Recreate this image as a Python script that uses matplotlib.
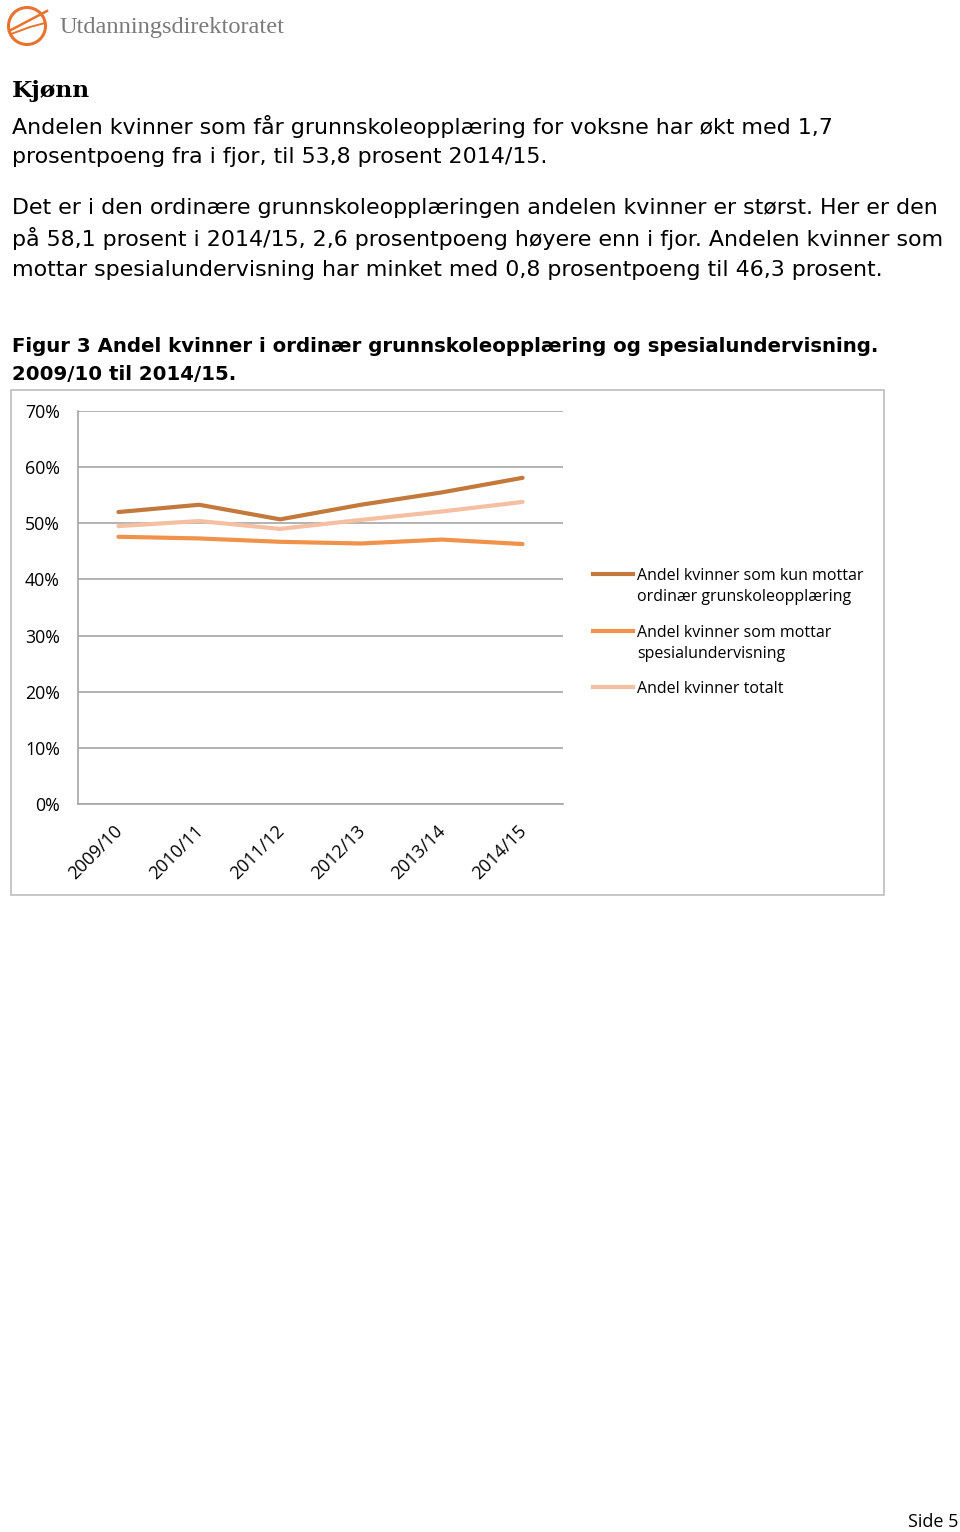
import matplotlib
matplotlib.use("Agg")
import matplotlib.pyplot as plt
import matplotlib.transforms as mtransforms
from matplotlib.patches import Rectangle, Circle
from matplotlib.lines import Line2D

W, H = 960, 1532

categories = ["2009/10", "2010/11", "2011/12", "2012/13", "2013/14", "2014/15"]
ordinaer = [52.0, 53.3, 50.7, 53.3, 55.5, 58.1]
spesial = [47.6, 47.3, 46.7, 46.4, 47.1, 46.3]
totalt = [49.5, 50.4, 49.0, 50.6, 52.1, 53.8]
series_names = ["Andel kvinner som kun mottar\nordinær grunskoleopplæring",
                "Andel kvinner som mottar\nspesialundervisning",
                "Andel kvinner totalt"]
yticks = [0, 10, 20, 30, 40, 50, 60, 70]
colors = ["#C3793B", "#F0924A", "#F5BFA2"]

fig = plt.figure(figsize=(W / 100, H / 100), dpi=100)

def fx(x):
    return x / W

def fy(y):
    return 1 - y / H

# Logo
logo_ax = fig.add_axes([0, fy(50), fx(300), 50 / H])
logo_ax.set_xlim(0, 300)
logo_ax.set_ylim(50, 0)
logo_ax.axis("off")
logo_ax.add_patch(Circle((27, 26), 18.5, fill=False, ec="#E8732E", lw=2.2))
logo_ax.plot([9, 28, 47], [31, 21, 11], color="#E8732E", lw=1.8)
logo_ax.plot([11, 30, 45], [34, 27, 23], color="#E8732E", lw=1.4)
logo_ax.text(60, 27, "Utdanningsdirektoratet", fontsize=17.6, family="Liberation Serif",
             color="#7A7A7A", va="center", ha="left")

# Title and body text
fig.text(fx(12), fy(91), "Kjønn", fontsize=16.8, family="DejaVu Serif", weight="bold",
         va="center", ha="left")
body_lines = [
    (126, "Andelen kvinner som får grunnskoleopplæring for voksne har økt med 1,7"),
    (157, "prosentpoeng fra i fjor, til 53,8 prosent 2014/15."),
    (208, "Det er i den ordinære grunnskoleopplæringen andelen kvinner er størst. Her er den"),
    (239, "på 58,1 prosent i 2014/15, 2,6 prosentpoeng høyere enn i fjor. Andelen kvinner som"),
    (270, "mottar spesialundervisning har minket med 0,8 prosentpoeng til 46,3 prosent."),
]
for y, t in body_lines:
    fig.text(fx(12), fy(y), t, fontsize=15.9, family="DejaVu Sans", va="center", ha="left")

fig.text(fx(12), fy(347), "Figur 3 Andel kvinner i ordinær grunnskoleopplæring og spesialundervisning.",
         fontsize=14.25, family="DejaVu Sans", weight="bold", va="center", ha="left")
fig.text(fx(12), fy(375), "2009/10 til 2014/15.",
         fontsize=14.25, family="DejaVu Sans", weight="bold", va="center", ha="left")

# Chart border
fig.patches.append(Rectangle((fx(11), fy(895)), fx(884 - 11), (895 - 390) / H,
                             transform=fig.transFigure, fill=False, ec="#BDBDBD", lw=1.2))

# Main axes
ax = fig.add_axes([fx(78), fy(804), fx(563 - 78), (804 - 411) / H])
x = list(range(len(categories)))
for vals, c, n in zip([ordinaer, spesial, totalt], colors, series_names):
    ax.plot(x, vals, color=c, lw=3, solid_capstyle="round", label=n)
ax.set_xlim(-0.5, len(categories) - 0.5)
ax.set_ylim(0, 70)
ax.set_yticks(yticks)
ax.set_yticklabels([f"{v}%" for v in yticks], family="Open Sans", fontsize=12.8)
ax.yaxis.grid(True, color="#A6A6A6", lw=1.2)
ax.set_axisbelow(True)
ax.tick_params(axis="y", length=0, pad=13)
ax.tick_params(axis="x", length=0, pad=13)
ax.set_xticks(x)
ax.set_xticklabels(categories, rotation=45, ha="right", va="top", rotation_mode="anchor",
                   family="Open Sans", fontsize=13)
shift = mtransforms.ScaledTranslation(-5 / 100, 0, fig.dpi_scale_trans)
for lab in ax.get_xticklabels():
    lab.set_transform(lab.get_transform() + shift)
for s in ["top", "right"]:
    ax.spines[s].set_visible(False)
for s in ["left", "bottom"]:
    ax.spines[s].set_color("#A6A6A6")
    ax.spines[s].set_linewidth(1.2)

# Legend (drawn manually to match Excel layout)
legend_rows = [574, 631, 687]
for c, n, yy in zip(colors, series_names, legend_rows):
    fig.add_artist(Line2D([fx(593), fx(633)], [fy(yy), fy(yy)], color=c, lw=3,
                          transform=fig.transFigure))
    fig.text(fx(637), fy(yy - 6), n, fontsize=11.5, family="Open Sans",
             va="top", ha="left", linespacing=1.45)

fig.text(fx(960 - 2), fy(1522), "Side 5", fontsize=13, family="Open Sans",
         ha="right", va="center")

fig.savefig("out.png", dpi=100)
